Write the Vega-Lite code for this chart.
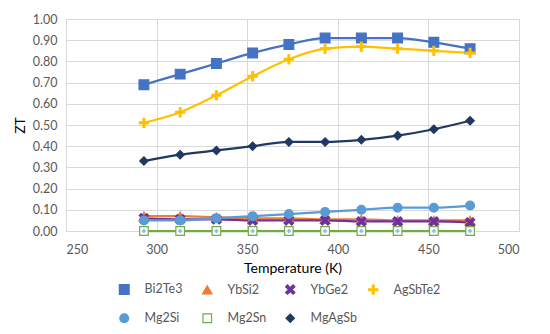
{
  "$schema": "https://vega.github.io/schema/vega-lite/v6.json",
  "autosize": {"type": "none"},
  "width": 453,
  "height": 212,
  "padding": {"left": 66, "top": 19, "right": 31, "bottom": 103},
  "background": "white",
  "config": {
    "font": "Lato",
    "view": {"stroke": "#d9d9d9", "strokeWidth": 1},
    "axis": {
      "gridColor": "#d9d9d9",
      "domain": false,
      "ticks": false,
      "labelColor": "#595959",
      "labelFontSize": 12.5,
      "labelFont": "Lato",
      "titleFont": "Lato",
      "titleFontWeight": "normal",
      "titleColor": "#000000",
      "titleFontSize": 14
    },
    "legend": {
      "labelFont": "Lato",
      "labelFontSize": 12.5,
      "labelColor": "#595959"
    }
  },
  "data": {
    "values": [
      {"T": 293, "s": "Bi2Te3", "ZT": 0.69}, {"T": 313, "s": "Bi2Te3", "ZT": 0.74}, {"T": 333, "s": "Bi2Te3", "ZT": 0.79}, {"T": 353, "s": "Bi2Te3", "ZT": 0.84}, {"T": 373, "s": "Bi2Te3", "ZT": 0.88}, {"T": 393, "s": "Bi2Te3", "ZT": 0.91}, {"T": 413, "s": "Bi2Te3", "ZT": 0.91}, {"T": 433, "s": "Bi2Te3", "ZT": 0.91}, {"T": 453, "s": "Bi2Te3", "ZT": 0.89}, {"T": 473, "s": "Bi2Te3", "ZT": 0.86},
      {"T": 293, "s": "YbSi2", "ZT": 0.07}, {"T": 313, "s": "YbSi2", "ZT": 0.07}, {"T": 333, "s": "YbSi2", "ZT": 0.065}, {"T": 353, "s": "YbSi2", "ZT": 0.06}, {"T": 373, "s": "YbSi2", "ZT": 0.06}, {"T": 393, "s": "YbSi2", "ZT": 0.055}, {"T": 413, "s": "YbSi2", "ZT": 0.055}, {"T": 433, "s": "YbSi2", "ZT": 0.05}, {"T": 453, "s": "YbSi2", "ZT": 0.05}, {"T": 473, "s": "YbSi2", "ZT": 0.05},
      {"T": 293, "s": "YbGe2", "ZT": 0.06}, {"T": 313, "s": "YbGe2", "ZT": 0.055}, {"T": 333, "s": "YbGe2", "ZT": 0.055}, {"T": 353, "s": "YbGe2", "ZT": 0.05}, {"T": 373, "s": "YbGe2", "ZT": 0.05}, {"T": 393, "s": "YbGe2", "ZT": 0.05}, {"T": 413, "s": "YbGe2", "ZT": 0.045}, {"T": 433, "s": "YbGe2", "ZT": 0.045}, {"T": 453, "s": "YbGe2", "ZT": 0.045}, {"T": 473, "s": "YbGe2", "ZT": 0.04},
      {"T": 293, "s": "AgSbTe2", "ZT": 0.51}, {"T": 313, "s": "AgSbTe2", "ZT": 0.56}, {"T": 333, "s": "AgSbTe2", "ZT": 0.64}, {"T": 353, "s": "AgSbTe2", "ZT": 0.73}, {"T": 373, "s": "AgSbTe2", "ZT": 0.81}, {"T": 393, "s": "AgSbTe2", "ZT": 0.86}, {"T": 413, "s": "AgSbTe2", "ZT": 0.87}, {"T": 433, "s": "AgSbTe2", "ZT": 0.86}, {"T": 453, "s": "AgSbTe2", "ZT": 0.85}, {"T": 473, "s": "AgSbTe2", "ZT": 0.84},
      {"T": 293, "s": "Mg2Si", "ZT": 0.05}, {"T": 313, "s": "Mg2Si", "ZT": 0.05}, {"T": 333, "s": "Mg2Si", "ZT": 0.06}, {"T": 353, "s": "Mg2Si", "ZT": 0.07}, {"T": 373, "s": "Mg2Si", "ZT": 0.08}, {"T": 393, "s": "Mg2Si", "ZT": 0.09}, {"T": 413, "s": "Mg2Si", "ZT": 0.1}, {"T": 433, "s": "Mg2Si", "ZT": 0.11}, {"T": 453, "s": "Mg2Si", "ZT": 0.11}, {"T": 473, "s": "Mg2Si", "ZT": 0.12},
      {"T": 293, "s": "Mg2Sn", "ZT": 0.0}, {"T": 313, "s": "Mg2Sn", "ZT": 0.0}, {"T": 333, "s": "Mg2Sn", "ZT": 0.0}, {"T": 353, "s": "Mg2Sn", "ZT": 0.0}, {"T": 373, "s": "Mg2Sn", "ZT": 0.0}, {"T": 393, "s": "Mg2Sn", "ZT": 0.0}, {"T": 413, "s": "Mg2Sn", "ZT": 0.0}, {"T": 433, "s": "Mg2Sn", "ZT": 0.0}, {"T": 453, "s": "Mg2Sn", "ZT": 0.0}, {"T": 473, "s": "Mg2Sn", "ZT": 0.0},
      {"T": 293, "s": "MgAgSb", "ZT": 0.33}, {"T": 313, "s": "MgAgSb", "ZT": 0.36}, {"T": 333, "s": "MgAgSb", "ZT": 0.38}, {"T": 353, "s": "MgAgSb", "ZT": 0.40}, {"T": 373, "s": "MgAgSb", "ZT": 0.42}, {"T": 393, "s": "MgAgSb", "ZT": 0.42}, {"T": 413, "s": "MgAgSb", "ZT": 0.43}, {"T": 433, "s": "MgAgSb", "ZT": 0.45}, {"T": 453, "s": "MgAgSb", "ZT": 0.48}, {"T": 473, "s": "MgAgSb", "ZT": 0.52}
    ]
  },
  "encoding": {
    "x": {
      "field": "T", "type": "quantitative", "title": "Temperature (K)",
      "scale": {"domain": [250, 500], "nice": false, "zero": false},
      "axis": {"values": [250, 300, 350, 400, 450, 500], "labelPadding": 12, "titlePadding": 6}
    },
    "y": {
      "field": "ZT", "type": "quantitative", "title": "ZT",
      "scale": {"domain": [0, 1], "nice": false},
      "axis": {"values": [0, 0.1, 0.2, 0.3, 0.4, 0.5, 0.6, 0.7, 0.8, 0.9, 1.0], "format": ".2f", "labelPadding": 9, "titlePadding": 5}
    },
    "stroke": {
      "field": "s", "type": "nominal", "title": null,
      "scale": {
        "domain": ["Bi2Te3", "YbSi2", "YbGe2", "AgSbTe2", "Mg2Si", "Mg2Sn", "MgAgSb"],
        "range": ["#4472C4", "#ED7D31", "#7030A0", "#FFC000", "#5B9BD5", "#70AD47", "#203864"]
      },
      "legend": {"orient": "none", "legendX": 52, "legendY": 264, "columns": 4, "direction": "horizontal", "gridAlign": "all", "columnPadding": 8, "rowPadding": 14, "labelOffset": 14, "symbolStrokeWidth": 1.2, "symbolSize": 80}
    }
  },
  "layer": [
    {
      "mark": {"type": "line", "interpolate": "monotone", "strokeWidth": 2.25}
    },
    {
      "mark": {"type": "point", "filled": false, "strokeWidth": 1.2, "opacity": 1},
      "encoding": {
        "fill": {
          "field": "s", "type": "nominal", "title": null,
          "scale": {
            "domain": ["Bi2Te3", "YbSi2", "YbGe2", "AgSbTe2", "Mg2Si", "Mg2Sn", "MgAgSb"],
            "range": ["#4472C4", "#ED7D31", "#7030A0", "#FFC000", "#5B9BD5", "#ffffff", "#203864"]
          }
        },
        "shape": {
          "field": "s", "type": "nominal", "title": null,
          "scale": {
            "domain": ["Bi2Te3", "YbSi2", "YbGe2", "AgSbTe2", "Mg2Si", "Mg2Sn", "MgAgSb"],
            "range": ["square", "triangle-up", "M-1,-0.6L-0.6,-1L0,-0.4L0.6,-1L1,-0.6L0.4,0L1,0.6L0.6,1L0,0.4L-0.6,1L-1,0.6L-0.4,0Z", "M-0.2,-1L0.2,-1L0.2,-0.2L1,-0.2L1,0.2L0.2,0.2L0.2,1L-0.2,1L-0.2,0.2L-1,0.2L-1,-0.2L-0.2,-0.2Z", "circle", "square", "diamond"]
          }
        },
        "size": {
          "field": "s", "type": "nominal", "legend": null,
          "scale": {
            "domain": ["Bi2Te3", "YbSi2", "YbGe2", "AgSbTe2", "Mg2Si", "Mg2Sn", "MgAgSb"],
            "range": [95, 70, 110, 150, 120, 55, 50]
          }
        }
      }
    },
    {
      "transform": [{"filter": "datum.s === 'Mg2Sn'"}],
      "mark": {"type": "point", "shape": "cross", "filled": true, "size": 18, "strokeWidth": 0},
      "encoding": {
        "stroke": {"value": "#5B9BD5"},
        "fill": {"value": "#5B9BD5"}
      }
    }
  ]
}
